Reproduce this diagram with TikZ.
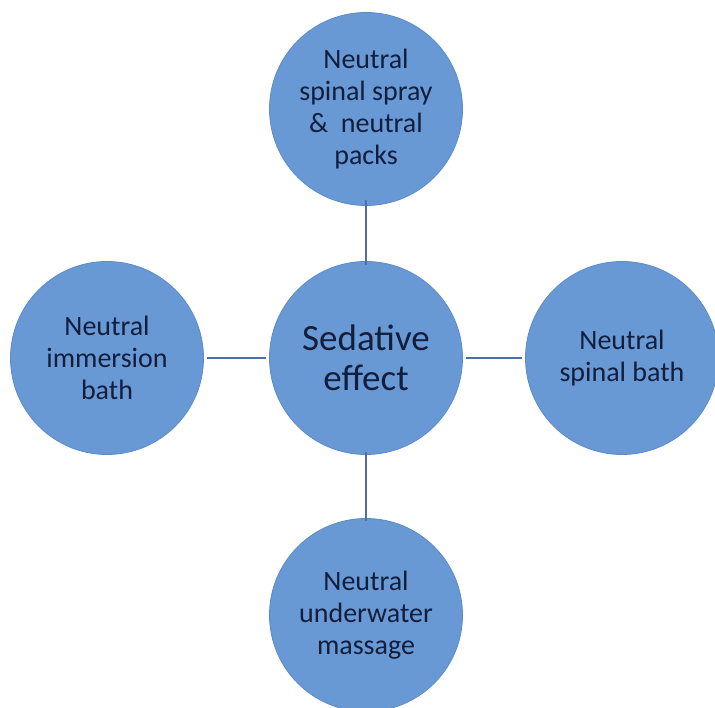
\documentclass[tikz,border=0pt]{standalone}
\usepackage{fontspec}
\setmainfont{Carlito}
\definecolor{circfill}{RGB}{104,153,212}
\definecolor{circedge}{RGB}{92,140,200}
\definecolor{txtcol}{RGB}{18,30,60}
\definecolor{linecol}{RGB}{82,108,168}
\begin{document}
\begin{tikzpicture}[x=1pt,y=-1pt,
  bubble/.style={circle, fill=circfill, draw=circedge, line width=0.8pt,
    minimum size=193pt, inner sep=0pt, text=txtcol, align=center},
  small/.style={font=\fontsize{28}{32}\selectfont},
  big/.style={font=\fontsize{37}{40}\selectfont},
  link/.style={draw=linecol, line width=2pt}]
\useasboundingbox (0,0) rectangle (715,708);
\clip (0,0) rectangle (715,708);
\fill[white] (0,0) rectangle (715,708);
\node[bubble, small] (top) at (366,109) {Neutral\\spinal spray\\\&\ \ neutral\\packs};
\node[bubble, small] (left) at (107,358) {Neutral\\immersion\\bath};
\node[bubble, big] (mid) at (366,358) {Sedative\\effect};
\node[bubble, small] (right) at (622,358) {Neutral\\spinal bath};
\node[bubble, small] (bot) at (366,615) {Neutral\\underwater\\massage};
\draw[link] ([yshift=6pt]top.south) -- ([yshift=-4pt]mid.north);
\draw[link] ([xshift=3pt]left.east) -- ([xshift=-3pt]mid.west);
\draw[link] ([xshift=3pt]mid.east) -- ([xshift=-3pt]right.west);
\draw[link] ([yshift=3pt]mid.south) -- ([yshift=-3pt]bot.north);
\end{tikzpicture}
\end{document}
